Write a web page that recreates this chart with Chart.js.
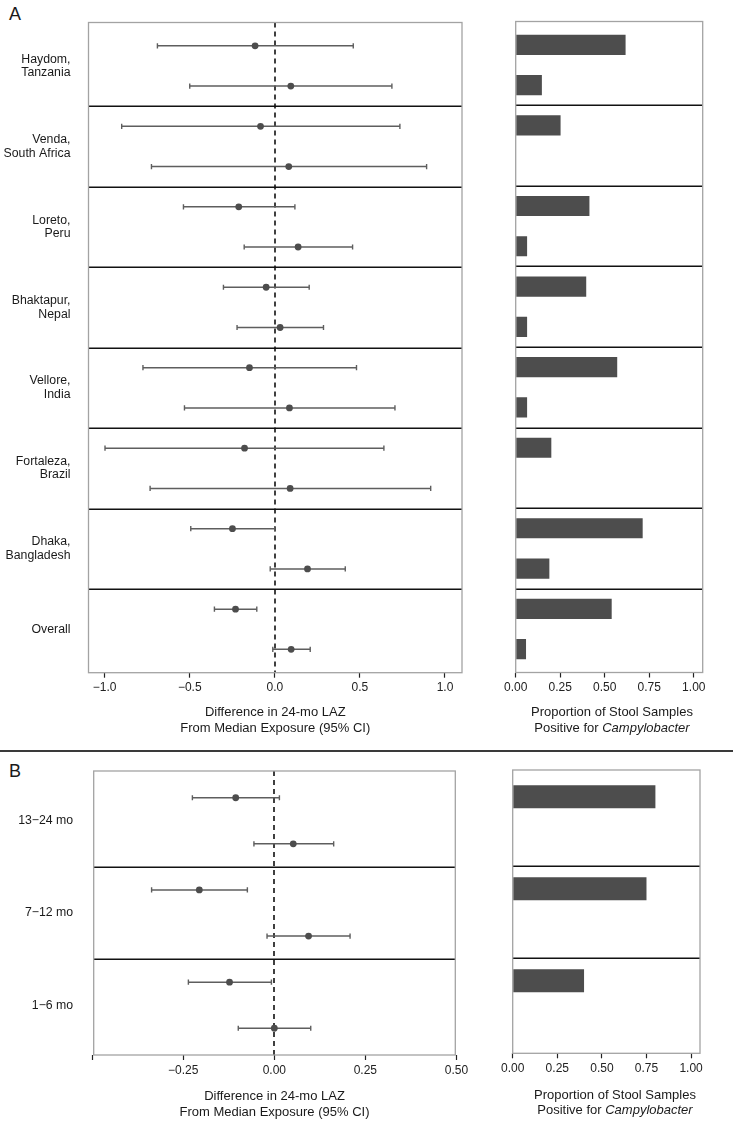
<!DOCTYPE html>
<html>
<head>
<meta charset="utf-8">
<script src="https://cdn.jsdelivr.net/npm/chart.js@4.4.1/dist/chart.umd.min.js"></script>
<style>
  body { margin: 0; background: #fff; }
  #page { position: relative; width: 733px; height: 1140px; overflow: hidden; font-family: "Liberation Sans", Arial, sans-serif; color: #1a1a1a; }
  canvas { position: absolute; }
  .lettre { position: absolute; left: 9px; font-size: 18px; line-height: 18px; }
  .titolo { position: absolute; width: 240px; text-align: center; font-size: 13px; }
  #divisore { position: absolute; left: 0; top: 750px; width: 733px; height: 1.6px; background: #3a3a3a; }
</style>
</head>
<body>
<div id="page">
  <div class="lettre" style="top:5px">A</div>
  <div class="lettre" style="top:762px">B</div>
  <div id="divisore"></div>

  <canvas id="forestA" width="480" height="740" style="left:0;top:0"></canvas>
  <canvas id="barreA" width="253" height="740" style="left:480px;top:0"></canvas>
  <canvas id="forestB" width="480" height="390" style="left:0;top:750px"></canvas>
  <canvas id="barreB" width="253" height="390" style="left:480px;top:750px"></canvas>

  <div class="titolo" style="left:492px;top:704px;line-height:16.3px">Proportion of Stool Samples<br>Positive for <i>Campylobacter</i></div>
  <div class="titolo" style="left:495px;top:1086.5px;line-height:15px">Proportion of Stool Samples<br>Positive for <i>Campylobacter</i></div>
</div>

<script>
// ---- dati pannello A (siti) ----
const sitiA = [["Haydom,", "Tanzania"], ["Venda,", "South Africa"], ["Loreto,", "Peru"], ["Bhaktapur,", "Nepal"],
               ["Vellore,", "India"], ["Fortaleza,", "Brazil"], ["Dhaka,", "Bangladesh"], ["Overall"]];
// riga superiore (esposizione alta)
const lazAltaA   = [-0.116, -0.084, -0.212, -0.051, -0.149, -0.178, -0.249, -0.231];
const lazAltaInfA = [-0.690, -0.900, -0.537, -0.302, -0.775, -0.998, -0.494, -0.355];
const lazAltaSupA = [0.461, 0.735, 0.118, 0.202, 0.480, 0.641, 0.000, -0.106];
// riga inferiore (esposizione bassa)
const lazBassaA   = [0.094, 0.082, 0.137, 0.031, 0.086, 0.090, 0.192, 0.096];
const lazBassaInfA = [-0.500, -0.725, -0.180, -0.222, -0.531, -0.733, -0.027, -0.012];
const lazBassaSupA = [0.688, 0.892, 0.457, 0.286, 0.706, 0.916, 0.414, 0.208];
// proporzione di campioni positivi
const propAltaA  = [0.617, 0.252, 0.414, 0.396, 0.570, 0.200, 0.713, 0.539];
const propBassaA = [0.147, 0, 0.064, 0.064, 0.064, 0, 0.189, 0.058];

// ---- dati pannello B (età) ----
const etaB = ["13\u221224 mo", "7\u221212 mo", "1\u22126 mo"];
const lazAltaB    = [-0.106, -0.206, -0.123];
const lazAltaInfB = [-0.225, -0.337, -0.236];
const lazAltaSupB = [0.014, -0.074, -0.008];
const lazBassaB    = [0.052, 0.094, 0.000];
const lazBassaInfB = [-0.056, -0.020, -0.099];
const lazBassaSupB = [0.163, 0.208, 0.100];
const propAltaB  = [0.80, 0.75, 0.40];
const propBassaB = [0, 0, 0];

// ---- tick ----
const tickForestA = [-1, -0.5, 0, 0.5, 1];
const etichetteForestA = ["\u22121.0", "\u22120.5", "0.0", "0.5", "1.0"];
const tickForestB = [-0.5, -0.25, 0, 0.25, 0.5];
const etichetteForestB = ["", "\u22120.25", "0.00", "0.25", "0.50"];
const tickBarre = [0, 0.25, 0.5, 0.75, 1];
const etichetteBarre = ["0.00", "0.25", "0.50", "0.75", "1.00"];

Chart.defaults.font.family = '"Liberation Sans", Arial, sans-serif';
Chart.defaults.color = "#1a1a1a";
Chart.defaults.animation = false;

const GRIGIO_PUNTO = "#4d4d4d";
const GRIGIO_BARRA = "#5e5e5e";

// riga k (0 = alta, 1 = bassa) del gruppo i
const rigaY = (i, k) => 4 * i + 1 + 2 * k;
const separatori = (n) => Array.from({ length: n - 1 }, (_, i) => 4 * (i + 1));
const limiteY = (n) => ({ min: -0.16, max: 4 * n - 1 + 1.16 });

// cornice, separatori e linea dello zero
const cornice = {
    id: "cornice",
    beforeDatasetsDraw(chart, args, opts) {
        const { ctx, chartArea: a, scales } = chart;
        ctx.save();
        ctx.strokeStyle = "#111";
        ctx.lineWidth = 1.5;
        (opts.separatori || []).forEach((v) => {
            const y = Math.round(scales.y.getPixelForValue(v)) + 0.25;
            ctx.beginPath();
            ctx.moveTo(a.left, y);
            ctx.lineTo(a.right, y);
            ctx.stroke();
        });
        if (opts.zero) {
            const x = Math.round(scales.x.getPixelForValue(0));
            ctx.setLineDash([5, 4]);
            ctx.lineWidth = 1.6;
            ctx.beginPath();
            ctx.moveTo(x, a.top);
            ctx.lineTo(x, a.bottom);
            ctx.stroke();
        }
        ctx.restore();
    },
    afterDatasetsDraw(chart) {
        const { ctx, chartArea: a } = chart;
        ctx.save();
        ctx.strokeStyle = "#a3a3a3";
        ctx.lineWidth = 1.3;
        ctx.strokeRect(a.left, a.top, a.right - a.left, a.bottom - a.top);
        ctx.restore();
    },
};

const assexX = (min, max, tick, etichette, altezza, titolo) => ({
    type: "linear",
    min: min,
    max: max,
    afterBuildTicks: (s) => { s.ticks = tick.map((v) => ({ value: v })); },
    afterFit: (s) => { s.height = altezza; },
    grid: { display: true, drawOnChartArea: false, drawTicks: true, tickLength: 5, tickColor: "#222", tickWidth: 1.2 },
    border: { display: false },
    ticks: {
        autoSkip: false, maxRotation: 0, padding: 3,
        font: { size: 12 }, color: "#222",
        callback: (v, i) => etichette[i],
    },
    title: titolo,
});

const creaForest = (id, categorie, alta, altaInf, altaSup, bassa, bassaInf, bassaSup, g) => {
    const n = categorie.length;
    const punti = categorie.flatMap((c, i) => [
        { x: alta[i], y: rigaY(i, 0) },
        { x: bassa[i], y: rigaY(i, 1) },
    ]);
    const intervalli = [];
    categorie.forEach((c, i) => {
        intervalli.push([{ x: altaInf[i], y: rigaY(i, 0) }, { x: altaSup[i], y: rigaY(i, 0) }]);
        intervalli.push([{ x: bassaInf[i], y: rigaY(i, 1) }, { x: bassaSup[i], y: rigaY(i, 1) }]);
    });
    const datasets = [
        { data: punti, pointRadius: 3.4, pointBackgroundColor: GRIGIO_PUNTO, pointBorderWidth: 0, showLine: false },
    ].concat(intervalli.map((d) => ({
        data: d,
        showLine: true,
        borderColor: GRIGIO_BARRA,
        borderWidth: 1.5,
        pointStyle: "line",
        rotation: 90,
        pointRadius: 2.6,
        pointBorderColor: GRIGIO_BARRA,
        pointBorderWidth: 1.4,
    })));
    const lim = limiteY(n);
    new Chart(document.getElementById(id), {
        type: "scatter",
        data: { datasets },
        options: {
            responsive: false,
            layout: { padding: { top: g.top, right: g.right, left: 0, bottom: 0 } },
            plugins: {
                legend: { display: false },
                tooltip: { enabled: false },
                cornice: { separatori: separatori(n), zero: true },
            },
            scales: {
                x: assexX(g.xmin, g.xmax, g.tick, g.etichette, g.altezzaX, {
                    display: true,
                    text: ["Difference in 24-mo LAZ", "From Median Exposure (95% CI)"],
                    font: { size: 13, lineHeight: 1.2 },
                    color: "#1a1a1a",
                    padding: { top: 0, bottom: g.padTitolo },
                }),
                y: {
                    type: "linear",
                    reverse: true,
                    min: lim.min,
                    max: lim.max,
                    afterBuildTicks: (s) => { s.ticks = categorie.map((c, i) => ({ value: 4 * i + 2 })); },
                    afterFit: (s) => { s.width = g.left; },
                    grid: { display: false },
                    border: { display: false },
                    ticks: {
                        autoSkip: false, padding: g.padY,
                        font: { size: 12.3, lineHeight: 1.1 }, color: "#1a1a1a",
                        callback: (v, i) => categorie[i],
                    },
                },
            },
        },
        plugins: [cornice],
    });
};

const creaBarre = (id, n, alta, bassa, g) => {
    const dati = alta.flatMap((v, i) => [
        { x: v, y: rigaY(i, 0) },
        { x: bassa[i], y: rigaY(i, 1) },
    ]);
    const lim = limiteY(n);
    new Chart(document.getElementById(id), {
        type: "bar",
        data: {
            datasets: [{
                data: dati,
                backgroundColor: GRIGIO_PUNTO,
                borderWidth: 0,
                categoryPercentage: 1,
                barPercentage: 0.5,
            }],
        },
        options: {
            responsive: false,
            indexAxis: "y",
            layout: { padding: { top: g.top, right: g.right, left: g.left, bottom: 0 } },
            plugins: {
                legend: { display: false },
                tooltip: { enabled: false },
                cornice: { separatori: separatori(n), zero: false },
            },
            scales: {
                x: assexX(0, 1.05, tickBarre, etichetteBarre, g.altezzaX, { display: false }),
                y: { type: "linear", reverse: true, offset: false, min: lim.min, max: lim.max, display: false },
            },
        },
        plugins: [cornice],
    });
};

creaForest("forestA", sitiA, lazAltaA, lazAltaInfA, lazAltaSupA, lazBassaA, lazBassaInfA, lazBassaSupA, {
    top: 22.5, right: 18, left: 88.5, altezzaX: 67.3, padTitolo: 4.2, padY: 10,
    xmin: -1.095, xmax: 1.1, tick: tickForestA, etichette: etichetteForestA,
});
creaBarre("barreA", sitiA.length, propAltaA, propBassaA, {
    top: 21.5, right: 30.3, left: 35.7, altezzaX: 67.5,
});
creaForest("forestB", etaB, lazAltaB, lazAltaInfB, lazAltaSupB, lazBassaB, lazBassaInfB, lazBassaSupB, {
    top: 21, right: 24.7, left: 93.7, altezzaX: 85, padTitolo: 20.2, padY: 12.5,
    xmin: -0.496, xmax: 0.497, tick: tickForestB, etichette: etichetteForestB,
});
creaBarre("barreB", etaB.length, propAltaB, propBassaB, {
    top: 20, right: 33, left: 32.7, altezzaX: 86.7,
});
</script>
</body>
</html>
